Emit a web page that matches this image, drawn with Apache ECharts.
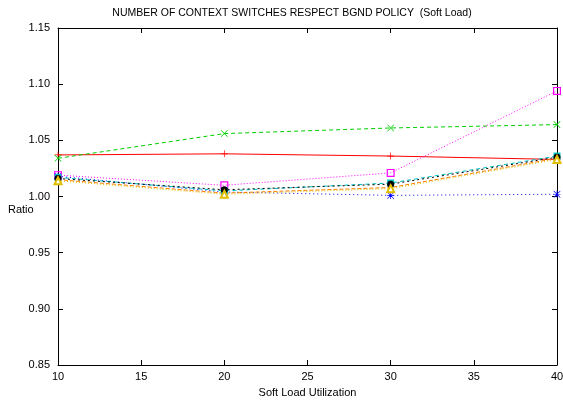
<!DOCTYPE html>
<html>
<head>
<meta charset="utf-8">
<script src="https://cdn.jsdelivr.net/npm/echarts@6/dist/echarts.min.js"></script>
<style>html,body{margin:0;padding:0;background:#fff;}#c{width:563px;height:400px;}</style>
</head>
<body>
<div id="c"></div>
<script>
var xValues = [10, 20, 30, 40];
var redVals = [1.037, 1.038, 1.036, 1.033];
var greenVals = [1.034, 1.056, 1.061, 1.064];
var magentaVals = [1.019, 1.010, 1.021, 1.094];
var blueVals = [1.018, 1.004, 1.001, 1.002];
var cyanVals = [1.017, 1.005, 1.012, 1.036];
var blackVals = [1.016, 1.006, 1.011, 1.035];
var orangeVals = [1.015, 1.003, 1.008, 1.034];
var yellowVals = [1.014, 1.002, 1.007, 1.033];

var PLUS = 'path://M4.5,0H5.5V4.5H10V5.5H5.5V10H4.5V5.5H0V4.5H4.5Z';
var CROSS = 'path://M0.7,0L5,4.3L9.3,0L10,0.7L5.7,5L10,9.3L9.3,10L5,5.7L0.7,10L0,9.3L4.3,5L0,0.7Z';
var STAR = 'path://M4.5,0H5.5V4.5H10V5.5H5.5V10H4.5V5.5H0V4.5H4.5ZM0.7,0L5,4.3L9.3,0L10,0.7L5.7,5L10,9.3L9.3,10L5,5.7L0.7,10L0,9.3L4.3,5L0,0.7Z';
var SQ_OPEN = 'path://M0,0H10V10H0ZM1.5,1.5V8.5H8.5V1.5Z';

function pts(vals){ return xValues.map(function(x,i){ return [x, vals[i]]; }); }
function mk(name, vals, color, dash, symbol, size){
  return {
    name: name, type: 'line', data: pts(vals), symbol: symbol, symbolSize: size,
    showAllSymbol: true,
    lineStyle: {color: color, width: 1, type: dash},
    itemStyle: {color: color, borderWidth: 0},
    animation: false, z: 3
  };
}
var chart = echarts.init(document.getElementById('c'), null, {renderer: 'canvas'});
var font = 'Liberation Sans, Arial, sans-serif';
var axisCommon = {
  axisLine: {show: true, lineStyle: {color: '#000', width: 1}},
  axisTick: {show: true, inside: true, length: 5, lineStyle: {color: '#000'}},
  splitLine: {show: false}
};
chart.setOption({
  backgroundColor: '#fff',
  animation: false,
  title: {
    text: 'NUMBER OF CONTEXT SWITCHES RESPECT BGND POLICY  (Soft Load)',
    left: 287, top: 3, textAlign: 'center',
    textStyle: {fontFamily: font, fontSize: 10.5, fontWeight: 'normal', color: '#000'}
  },
  graphic: [{
    type: 'text', left: 8, top: 204,
    style: {text: 'Ratio', font: '11px Liberation Sans, Arial, sans-serif', fill: '#000'}
  }],
  grid: {left: 58, right: 6, top: 28, bottom: 35, containLabel: false, outerBoundsMode: 'none'},
  xAxis: [
    Object.assign({type: 'value', min: 10, max: 40, interval: 5, position: 'bottom',
      name: 'Soft Load Utilization', nameLocation: 'middle', nameGap: 22,
      nameTextStyle: {fontFamily: font, fontSize: 11, color: '#000'},
      axisLabel: {fontFamily: font, fontSize: 11, color: '#000', margin: 6}}, axisCommon),
    Object.assign({type: 'value', min: 10, max: 40, interval: 5, position: 'top',
      axisLabel: {show: false}}, axisCommon)
  ],
  yAxis: [
    Object.assign({type: 'value', min: 0.85, max: 1.15, interval: 0.05, position: 'left',
      axisLabel: {fontFamily: font, fontSize: 11, color: '#000', margin: 8,
        formatter: function(v){ return v.toFixed(2); }}}, axisCommon),
    Object.assign({type: 'value', min: 0.85, max: 1.15, interval: 0.05, position: 'right',
      axisLabel: {show: false}}, axisCommon)
  ],
  series: [
    mk('red', redVals, '#ff0000', 'solid', PLUS, 7),
    mk('green', greenVals, '#00d000', [4, 3], CROSS, 7),
    mk('blue', blueVals, '#0000ff', [1, 3], STAR, 7),
    mk('magenta', magentaVals, '#ff00ff', [1, 2], SQ_OPEN, 8),
    mk('cyan', cyanVals, '#00c0c0', [4, 3], 'rect', 7),
    mk('black', blackVals, '#000000', [2, 3], 'circle', 7),
    mk('orange', orangeVals, '#ff8000', [4, 2], 'triangle', 7),
    mk('yellow', yellowVals, '#e0c000', [1, 2], 'emptyTriangle', 7)
  ]
});
</script>
</body>
</html>
